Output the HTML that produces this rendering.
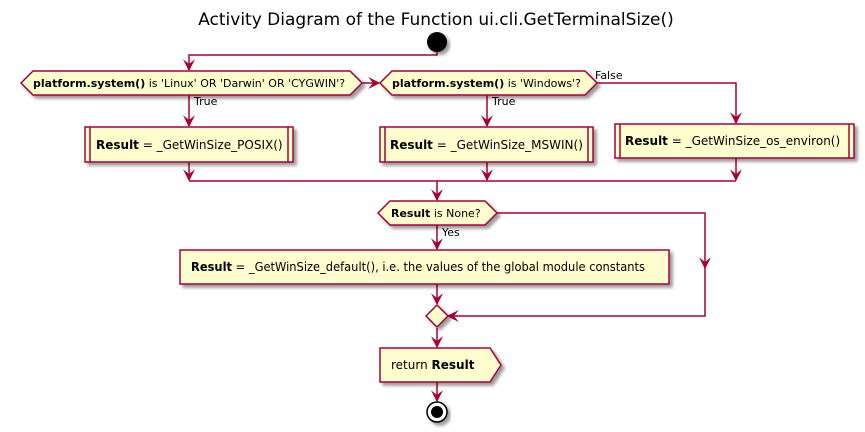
<!DOCTYPE html>
<html><head><meta charset="utf-8"><style>body{margin:0;background:#fff}svg{display:block}</style></head><body>
<svg width="865" height="432" viewBox="0 0 865 432" xmlns="http://www.w3.org/2000/svg" font-family="'DejaVu Sans','Liberation Sans',sans-serif">
<defs>
<filter id="sh" x="-10%" y="-20%" width="130%" height="160%"><feGaussianBlur in="SourceAlpha" stdDeviation="1.5"/><feOffset dx="3" dy="3"/><feComponentTransfer><feFuncA type="linear" slope="0.4"/></feComponentTransfer><feMerge><feMergeNode/><feMergeNode in="SourceGraphic"/></feMerge></filter>
<marker id="ar" viewBox="0 0 10 10" refX="9" refY="5" markerWidth="12" markerHeight="12" markerUnits="userSpaceOnUse" orient="auto"><path d="M0,0 L10,5 L0,10 L4,5 Z" fill="#A80036"/></marker>
</defs>
<text x="436" y="25" font-size="17" text-anchor="middle" fill="#000">Activity Diagram of the Function ui.cli.GetTerminalSize()</text>
<g stroke="#A80036" stroke-width="1.5" fill="none">
<path d="M437,52 V55 H189 V70" marker-end="url(#ar)"/>
<path d="M362,83 H379" marker-end="url(#ar)"/>
<path d="M189,95 V126" marker-end="url(#ar)"/>
<path d="M487,95 V126" marker-end="url(#ar)"/>
<path d="M597,83 H736 V123" marker-end="url(#ar)"/>
<path d="M189,162 V180" marker-end="url(#ar)"/>
<path d="M487,162 V180" marker-end="url(#ar)"/>
<path d="M736,158 V180" marker-end="url(#ar)"/>
<path d="M189,181 H736"/>
<path d="M437,181 V200" marker-end="url(#ar)"/>
<path d="M437,225 V249" marker-end="url(#ar)"/>
<path d="M497,213 H705 V268" marker-end="url(#ar)"/>
<path d="M705,265 V316 H448" marker-end="url(#ar)"/>
<path d="M437,284 V304" marker-end="url(#ar)"/>
<path d="M437,328 V347" marker-end="url(#ar)"/>
<path d="M437,382 V401" marker-end="url(#ar)"/>
</g>
<circle cx="437" cy="42" r="10" fill="#000" filter="url(#sh)"/>
<g fill="#FEFECE" stroke="#A80036" stroke-width="1.5" filter="url(#sh)">
<polygon points="21,83 33,71 350,71 362,83 350,95 33,95"/>
<polygon points="380,83 392,71 585,71 597,83 585,95 392,95"/>
<rect x="85" y="127" width="208" height="35"/>
<rect x="380" y="127" width="213" height="35"/>
<rect x="615" y="124" width="239" height="34"/>
<polygon points="378,213 390,201 485,201 497,213 485,225 390,225"/>
<rect x="180" y="250" width="489" height="34"/>
<polygon points="437,305 448,316 437,327 426,316"/>
<polygon points="380,348 490,348 501,365 490,382 380,382"/>
</g>
<g stroke="#A80036" stroke-width="1.5">
<path d="M90,127 V162 M288,127 V162 M385,127 V162 M588,127 V162 M620,124 V158 M849,124 V158"/>
</g>
<circle cx="437" cy="412" r="10" fill="#fff" stroke="#000" stroke-width="1.5" filter="url(#sh)"/>
<circle cx="437" cy="412" r="6" fill="#000"/>
<g font-size="11" fill="#000">
<text x="33" y="87"><tspan font-weight="bold">platform.system()</tspan> is 'Linux' OR 'Darwin' OR 'CYGWIN'?</text>
<text x="392" y="87"><tspan font-weight="bold">platform.system()</tspan> is 'Windows'?</text>
<text x="194" y="105">True</text>
<text x="492" y="105">True</text>
<text x="595" y="79">False</text>
<text x="391" y="217"><tspan font-weight="bold">Result</tspan> is None?</text>
<text x="442" y="236">Yes</text>
</g>
<g font-size="12" fill="#000">
<text x="96" y="149"><tspan font-weight="bold">Result</tspan> = _GetWinSize_POSIX()</text>
<text x="390" y="149"><tspan font-weight="bold">Result</tspan> = _GetWinSize_MSWIN()</text>
<text x="625" y="145"><tspan font-weight="bold">Result</tspan> = _GetWinSize_os_environ()</text>
<text x="191" y="271" textLength="454" lengthAdjust="spacingAndGlyphs"><tspan font-weight="bold">Result</tspan> = _GetWinSize_default(), i.e. the values of the global module constants</text>
<text x="391" y="369">return <tspan font-weight="bold">Result</tspan></text>
</g>
</svg>
</body></html>
